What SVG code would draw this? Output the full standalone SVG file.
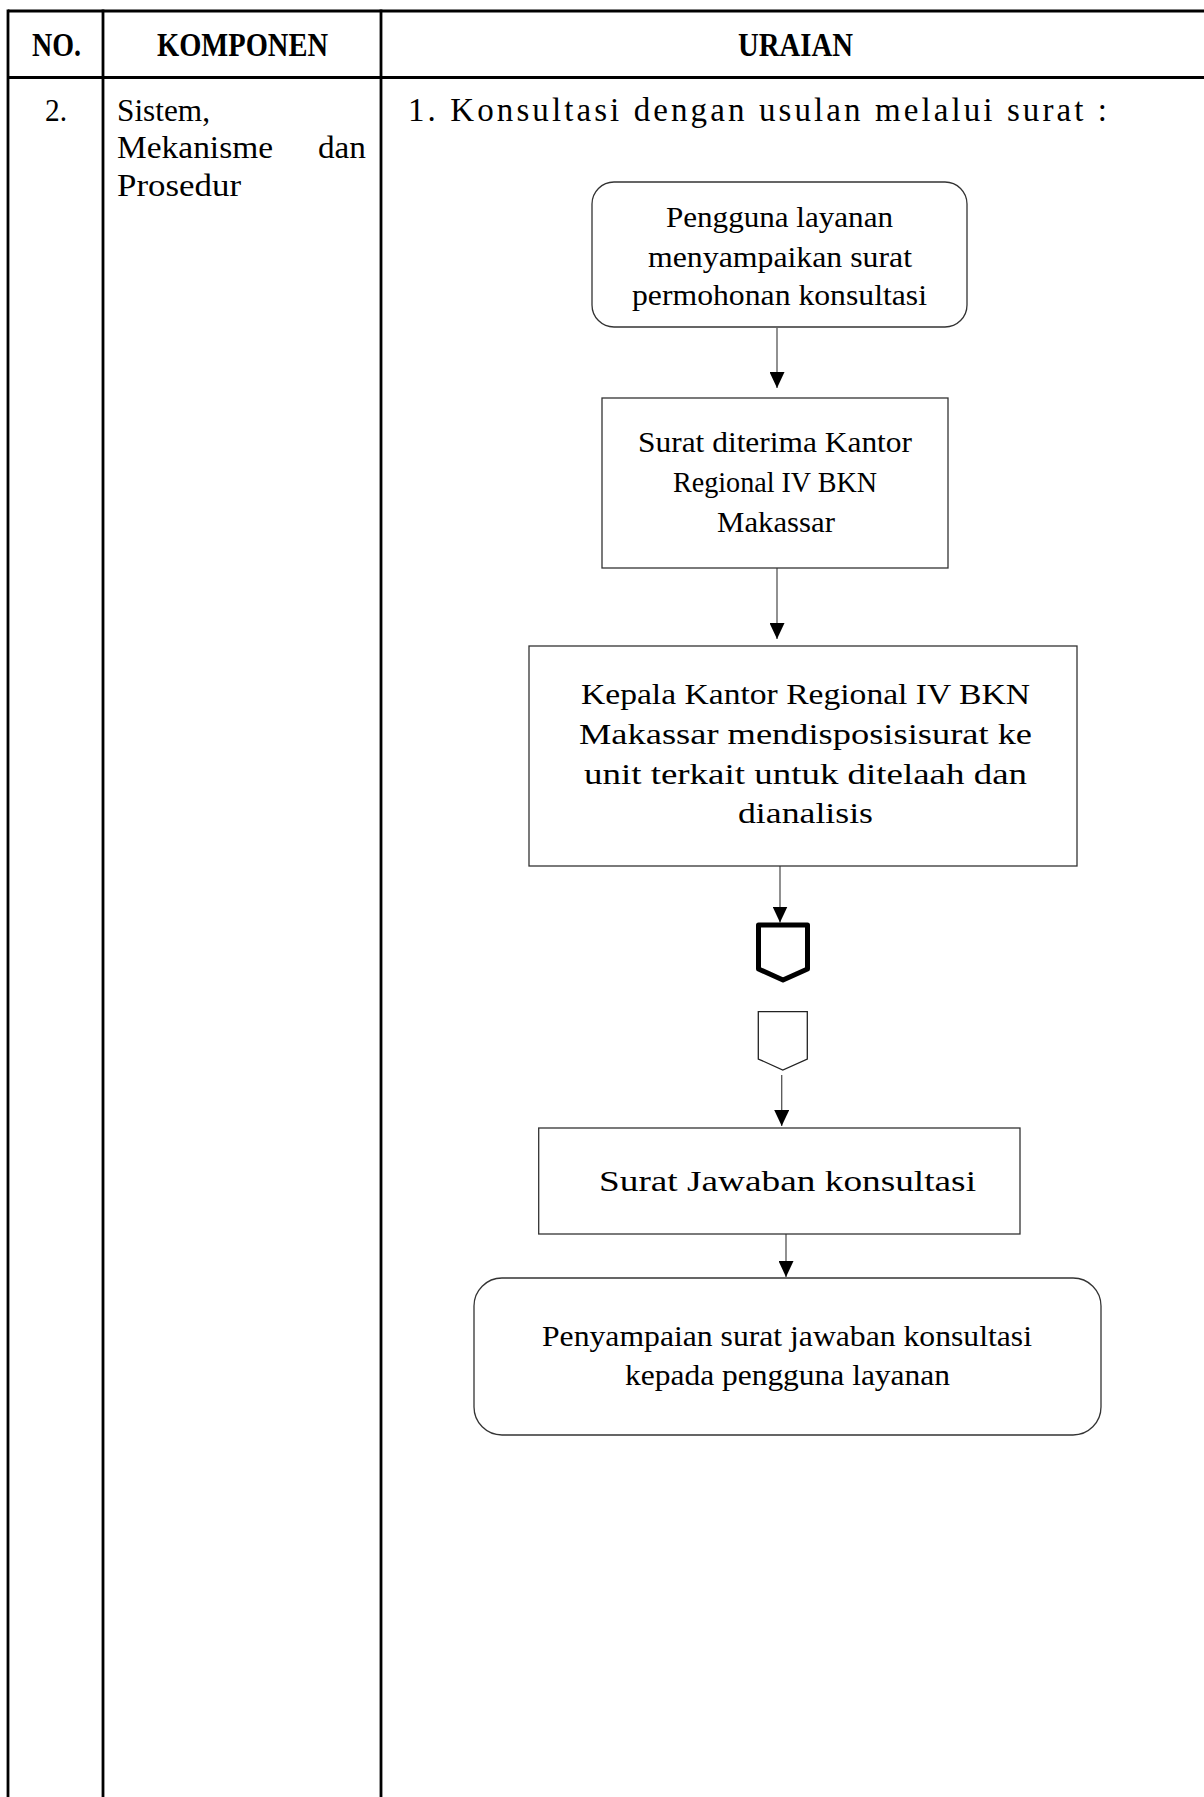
<svg xmlns="http://www.w3.org/2000/svg" width="1204" height="1797" viewBox="0 0 1204 1797">
<style>
  .tbl { stroke: #000; stroke-width: 2.8; fill: none; }
  .hdr { font-family: "Liberation Serif", serif; font-weight: bold; font-size: 33px; fill: #000; }
  .body { font-family: "Liberation Serif", serif; font-size: 31px; fill: #000; }
  .head { font-family: "Liberation Serif", serif; font-size: 33px; fill: #000; }
  .nt { font-family: "Liberation Serif", serif; font-size: 28.5px; fill: #000; }
  .box { fill: #fff; stroke: #333; stroke-width: 1.3; }
  .conn { stroke: #555; stroke-width: 1.3; fill: none; }
</style>
<defs>
  <marker id="ah" viewBox="0 0 16 15" markerUnits="userSpaceOnUse" markerWidth="16" markerHeight="15" refX="16" refY="7.5" orient="auto" preserveAspectRatio="none">
    <path d="M0,0 L16,7.5 L0,15 z" fill="#000"/>
  </marker>
</defs>
<rect x="0" y="0" width="1204" height="1797" fill="#fff"/>

<g id="table">
  <line class="tbl" x1="8" y1="11" x2="1204" y2="11"/>
  <line class="tbl" x1="8" y1="77.5" x2="1204" y2="77.5"/>
  <line class="tbl" x1="8" y1="9.6" x2="8" y2="1797"/>
  <line class="tbl" x1="103" y1="9.6" x2="103" y2="1797"/>
  <line class="tbl" x1="381" y1="9.6" x2="381" y2="1797"/>
  <text class="hdr" x="32" y="56" textLength="49" lengthAdjust="spacingAndGlyphs">NO.</text>
  <text class="hdr" x="157" y="56" textLength="171" lengthAdjust="spacingAndGlyphs">KOMPONEN</text>
  <text class="hdr" x="738" y="56" textLength="115" lengthAdjust="spacingAndGlyphs">URAIAN</text>
  <text class="body" x="45" y="121" textLength="22" lengthAdjust="spacingAndGlyphs">2.</text>
  <text class="body" x="117" y="121" textLength="93" lengthAdjust="spacingAndGlyphs">Sistem,</text>
  <text class="body" x="117" y="158" textLength="156" lengthAdjust="spacingAndGlyphs">Mekanisme</text>
  <text class="body" x="318" y="158" textLength="48" lengthAdjust="spacingAndGlyphs">dan</text>
  <text class="body" x="117" y="196" textLength="124" lengthAdjust="spacingAndGlyphs">Prosedur</text>
  <text class="head" x="408" y="121" textLength="699" lengthAdjust="spacing">1. Konsultasi dengan usulan melalui surat :</text>
</g>

<g id="connectors">
  <line class="conn" x1="777" y1="328" x2="777" y2="388" marker-end="url(#ah)"/>
  <line class="conn" x1="777" y1="568" x2="777" y2="639" marker-end="url(#ah)"/>
  <line class="conn" x1="780" y1="866" x2="780" y2="922.5" marker-end="url(#ah)"/>
  <line class="conn" x1="781.7" y1="1075" x2="781.7" y2="1126" marker-end="url(#ah)"/>
  <line class="conn" x1="786" y1="1234" x2="786" y2="1277" marker-end="url(#ah)"/>
</g>

<g id="node1">
  <rect class="box" x="592" y="182" width="375" height="145" rx="22" ry="22"/>
  <text class="nt" x="666" y="227" textLength="227" lengthAdjust="spacingAndGlyphs">Pengguna layanan</text>
  <text class="nt" x="648" y="267" textLength="264" lengthAdjust="spacingAndGlyphs">menyampaikan surat</text>
  <text class="nt" x="632" y="305" textLength="295" lengthAdjust="spacingAndGlyphs">permohonan konsultasi</text>
</g>

<g id="node2">
  <rect class="box" x="602" y="398" width="346" height="170"/>
  <text class="nt" x="638" y="452" textLength="274" lengthAdjust="spacingAndGlyphs">Surat diterima Kantor</text>
  <text class="nt" x="673" y="492" textLength="204" lengthAdjust="spacingAndGlyphs">Regional IV BKN</text>
  <text class="nt" x="717" y="532" textLength="118" lengthAdjust="spacingAndGlyphs">Makassar</text>
</g>

<g id="node3">
  <rect class="box" x="529" y="646" width="548" height="220"/>
  <text class="nt" x="581" y="704" textLength="449" lengthAdjust="spacingAndGlyphs">Kepala Kantor Regional IV BKN</text>
  <text class="nt" x="579" y="744" textLength="453" lengthAdjust="spacingAndGlyphs">Makassar mendisposisisurat ke</text>
  <text class="nt" x="584" y="784" textLength="443" lengthAdjust="spacingAndGlyphs">unit terkait untuk ditelaah dan</text>
  <text class="nt" x="738" y="823" textLength="135" lengthAdjust="spacingAndGlyphs">dianalisis</text>
</g>

<g id="offpage-out">
  <polygon points="758.5,925 807.5,925 807.5,969 783,980 758.5,969" fill="#fff" stroke="#000" stroke-width="5" stroke-linejoin="round"/>
</g>

<g id="offpage-in">
  <polygon points="758.3,1011.7 807.3,1011.7 807.3,1059 782.8,1070 758.3,1059" fill="#fff" stroke="#222" stroke-width="1.3"/>
</g>

<g id="node4">
  <rect class="box" x="538.7" y="1128" width="481.3" height="106"/>
  <text class="nt" x="599" y="1191" textLength="377" lengthAdjust="spacingAndGlyphs">Surat Jawaban konsultasi</text>
</g>

<g id="node5">
  <rect class="box" x="474" y="1278" width="627" height="157" rx="28" ry="28"/>
  <text class="nt" x="542" y="1346" textLength="490" lengthAdjust="spacingAndGlyphs">Penyampaian surat jawaban konsultasi</text>
  <text class="nt" x="625" y="1385" textLength="325" lengthAdjust="spacingAndGlyphs">kepada pengguna layanan</text>
</g>
</svg>
